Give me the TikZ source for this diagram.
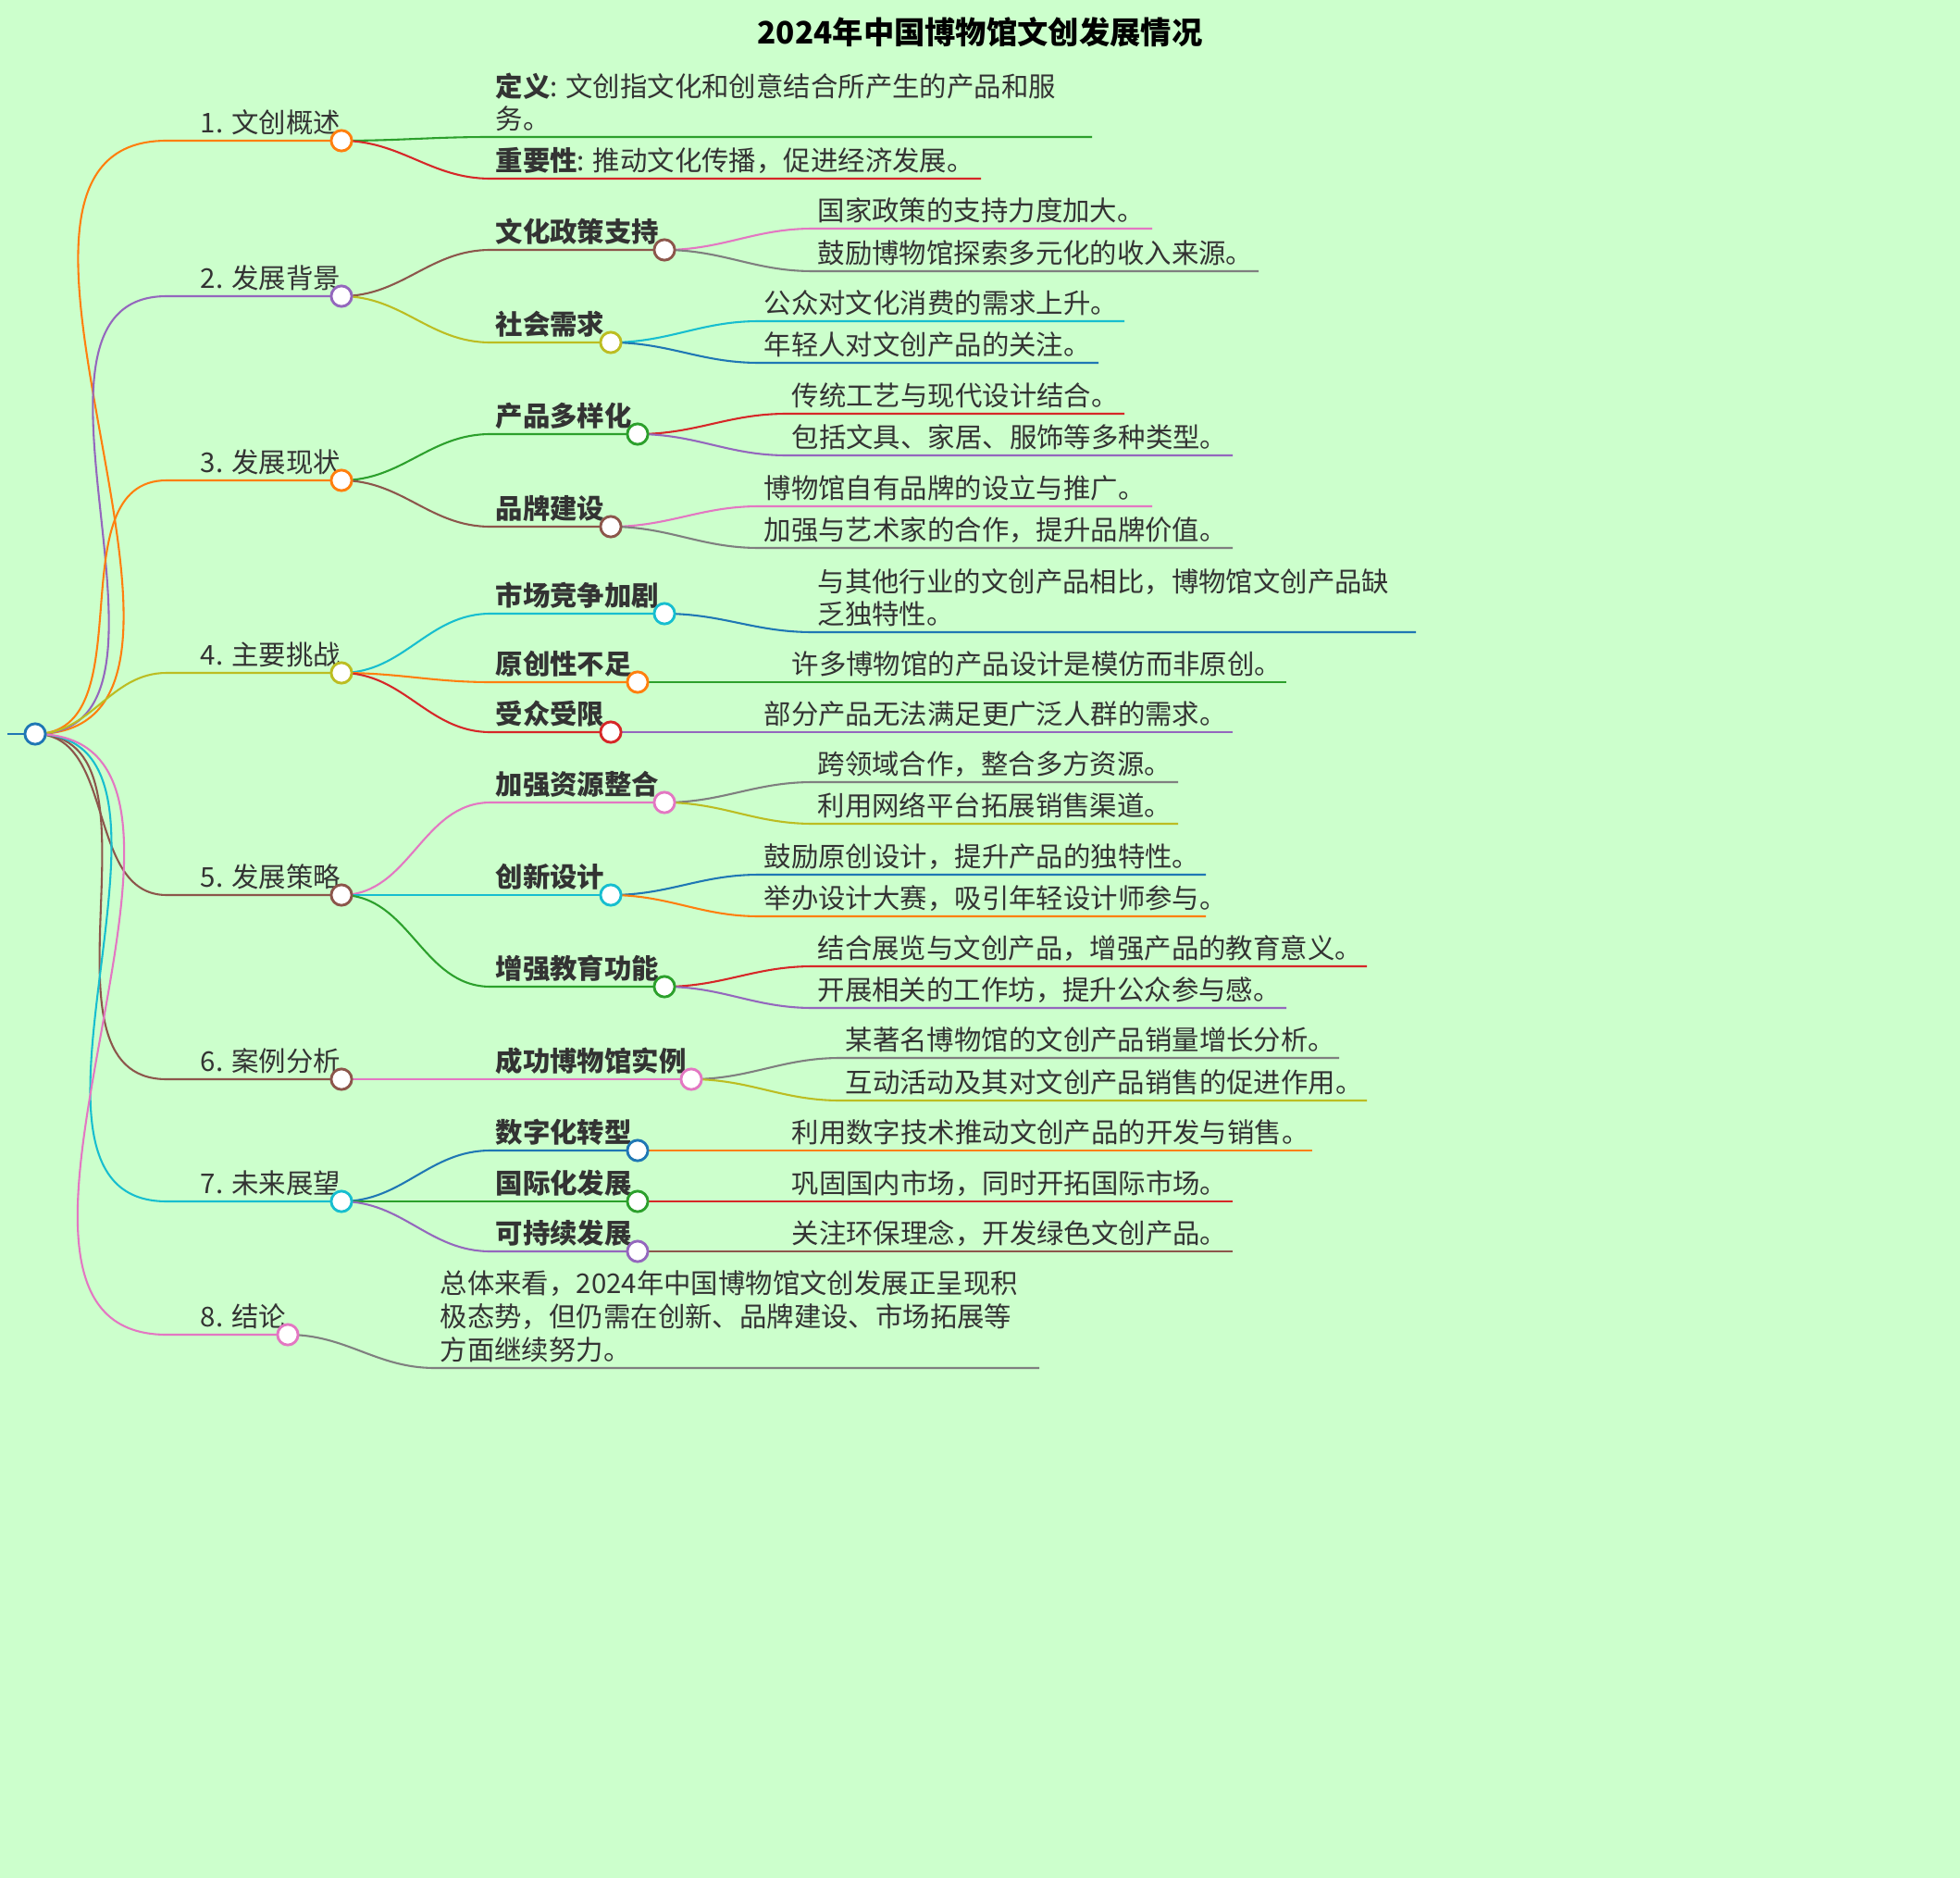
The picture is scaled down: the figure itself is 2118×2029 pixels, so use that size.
\documentclass[tikz,border=0pt]{standalone}
\usepackage{fontspec}
\setmainfont{Noto Sans CJK SC}
\usetikzlibrary{positioning}
\definecolor{cOra}{HTML}{FF7F0E}\definecolor{cPur}{HTML}{9467BD}
\definecolor{cOli}{HTML}{BCBD22}\definecolor{cBro}{HTML}{8C564B}
\definecolor{cCya}{HTML}{17BECF}\definecolor{cPin}{HTML}{E377C2}
\definecolor{cGre}{HTML}{2CA02C}\definecolor{cRed}{HTML}{D62728}
\definecolor{cBlu}{HTML}{1F77B4}\definecolor{cGra}{HTML}{7F7F7F}
\definecolor{bgc}{HTML}{CCFFCC}\definecolor{txt}{HTML}{333333}
% leaf: parent, name, x0, x1, y, colour, text
\newcommand{\leaf}[7]{%
  \coordinate (#2-s) at (#3,#5); \coordinate (#2-e) at (#4,#5);
  \draw[conn,#6] (#1) to[out=0,in=180] (#2-s) -- (#2-e);
  \node[leaftext] at (#3,#5) {#7};}
% topic: parent, name, x0, xcircle, y, colour, text
\newcommand{\topic}[7]{%
  \coordinate (#2-s) at (#3,#5); \coordinate (#2) at (#4,#5);
  \draw[conn,#6] (#1) to[out=0,in=180] (#2-s) -- (#2);
  \node[leaftext] at (#3,#5) {#7};}
\newcommand{\subtopic}[7]{%
  \coordinate (#2-s) at (#3,#5); \coordinate (#2) at (#4,#5);
  \draw[conn,#6] (#1) to[out=0,in=180] (#2-s) -- (#2);
  \node[leaftext,font=\fontsize{11.3pt}{13.6pt}\selectfont\bfseries] at (#3,#5) {#7};}
\begin{document}
\begin{tikzpicture}[x=0.0135cm,y=-0.0135cm,
    conn/.style={line width=0.8pt},
    leaftext/.style={anchor=south west,inner sep=2pt,text=txt,align=left,
      font=\fontsize{11.3pt}{13.8pt}\selectfont},
    circ/.style={circle,draw=#1,fill=white,line width=1.1pt,inner sep=0pt,minimum size=0.3cm}]
\fill[bgc] (0,0) rectangle (2118,2029);
\node[text=black,font=\fontsize{12.8pt}{15pt}\selectfont\bfseries] (title) at (1059,35) {2024年中国博物馆文创发展情况};
\coordinate (root) at (38,793);
\coordinate (stub) at (8,793);
\draw[conn,cBlu] (stub) -- (root);
% level 1
\topic{root}{a}{180}{369}{152}{cOra}{\hspace{12pt}1. 文创概述}
\topic{root}{b}{180}{369}{320}{cPur}{\hspace{12pt}2. 发展背景}
\topic{root}{c}{180}{369}{519}{cOra}{\hspace{12pt}3. 发展现状}
\topic{root}{d}{180}{369}{727}{cOli}{\hspace{12pt}4. 主要挑战}
\topic{root}{e}{180}{369}{967}{cBro}{\hspace{12pt}5. 发展策略}
\topic{root}{f}{180}{369}{1166}{cBro}{\hspace{12pt}6. 案例分析}
\topic{root}{g}{180}{369}{1298}{cCya}{\hspace{12pt}7. 未来展望}
\topic{root}{h}{180}{311}{1442}{cPin}{\hspace{12pt}8. 结论}
% 1
\leaf{a}{a1}{530}{1180}{148}{cGre}{\textbf{定义}: 文创指文化和创意结合所产生的产品和服\\务。}
\leaf{a}{a2}{530}{1060}{193}{cRed}{\textbf{重要性}: 推动文化传播，促进经济发展。}
% 2
\subtopic{b}{b1}{530}{718}{270}{cBro}{文化政策支持}
\subtopic{b}{b2}{530}{660}{370}{cOli}{社会需求}
\leaf{b1}{b11}{878}{1245}{247}{cPin}{国家政策的支持力度加大。}
\leaf{b1}{b12}{878}{1360}{293}{cGra}{鼓励博物馆探索多元化的收入来源。}
\leaf{b2}{b21}{820}{1215}{347}{cCya}{公众对文化消费的需求上升。}
\leaf{b2}{b22}{820}{1187}{392}{cBlu}{年轻人对文创产品的关注。}
% 3
\subtopic{c}{c1}{530}{689}{469}{cGre}{产品多样化}
\subtopic{c}{c2}{530}{660}{569}{cBro}{品牌建设}
\leaf{c1}{c11}{850}{1215}{447}{cRed}{传统工艺与现代设计结合。}
\leaf{c1}{c12}{850}{1332}{492}{cPur}{包括文具、家居、服饰等多种类型。}
\leaf{c2}{c21}{820}{1245}{547}{cPin}{博物馆自有品牌的设立与推广。}
\leaf{c2}{c22}{820}{1332}{592}{cGra}{加强与艺术家的合作，提升品牌价值。}
% 4
\subtopic{d}{d1}{530}{718}{663}{cCya}{市场竞争加剧}
\subtopic{d}{d2}{530}{689}{737}{cOra}{原创性不足}
\subtopic{d}{d3}{530}{660}{791}{cRed}{受众受限}
\leaf{d1}{d11}{878}{1530}{683}{cBlu}{与其他行业的文创产品相比，博物馆文创产品缺\\乏独特性。}
\leaf{d2}{d21}{850}{1390}{737}{cGre}{许多博物馆的产品设计是模仿而非原创。}
\leaf{d3}{d31}{820}{1332}{791}{cPur}{部分产品无法满足更广泛人群的需求。}
% 5
\subtopic{e}{e1}{530}{718}{867}{cPin}{加强资源整合}
\subtopic{e}{e2}{530}{660}{967}{cCya}{创新设计}
\subtopic{e}{e3}{530}{718}{1066}{cGre}{增强教育功能}
\leaf{e1}{e11}{878}{1273}{845}{cGra}{跨领域合作，整合多方资源。}
\leaf{e1}{e12}{878}{1273}{890}{cOli}{利用网络平台拓展销售渠道。}
\leaf{e2}{e21}{820}{1303}{945}{cBlu}{鼓励原创设计，提升产品的独特性。}
\leaf{e2}{e22}{820}{1303}{990}{cOra}{举办设计大赛，吸引年轻设计师参与。}
\leaf{e3}{e31}{878}{1477}{1044}{cRed}{结合展览与文创产品，增强产品的教育意义。}
\leaf{e3}{e32}{878}{1390}{1089}{cPur}{开展相关的工作坊，提升公众参与感。}
% 6
\subtopic{f}{f1}{530}{747}{1166}{cPin}{成功博物馆实例}
\leaf{f1}{f11}{908}{1447}{1143}{cGra}{某著名博物馆的文创产品销量增长分析。}
\leaf{f1}{f12}{908}{1477}{1189}{cOli}{互动活动及其对文创产品销售的促进作用。}
% 7
\subtopic{g}{g1}{530}{689}{1243}{cBlu}{数字化转型}
\subtopic{g}{g2}{530}{689}{1298}{cGre}{国际化发展}
\subtopic{g}{g3}{530}{689}{1352}{cPur}{可持续发展}
\leaf{g1}{g11}{850}{1418}{1243}{cOra}{利用数字技术推动文创产品的开发与销售。}
\leaf{g2}{g21}{850}{1332}{1298}{cRed}{巩固国内市场，同时开拓国际市场。}
\leaf{g3}{g31}{850}{1332}{1352}{cBro}{关注环保理念，开发绿色文创产品。}
% 8
\leaf{h}{h1}{470}{1123}{1478}{cGra}{总体来看，2024年中国博物馆文创发展正呈现积\\极态势，但仍需在创新、品牌建设、市场拓展等\\方面继续努力。}
% circles on top
\node[circ=cBlu] (rootc) at (root) {};
\foreach \n/\c in {a/cOra,b/cPur,c/cOra,d/cOli,e/cBro,f/cBro,g/cCya,h/cPin,
  b1/cBro,b2/cOli,c1/cGre,c2/cBro,d1/cCya,d2/cOra,d3/cRed,
  e1/cPin,e2/cCya,e3/cGre,f1/cPin,g1/cBlu,g2/cGre,g3/cPur}
  \node[circ=\c] at (\n) {};
\pgfresetboundingbox
\useasboundingbox (0,0) rectangle (2118,2029);
\end{tikzpicture}
\end{document}
